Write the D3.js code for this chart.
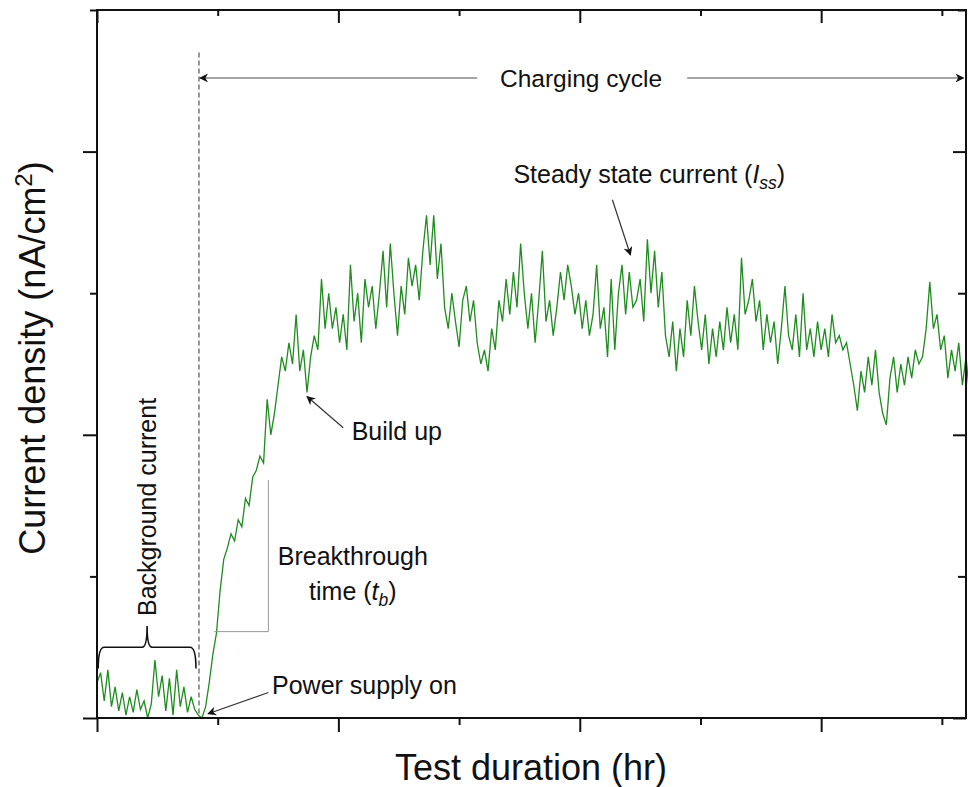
<!DOCTYPE html>
<html>
<head>
<meta charset="utf-8">
<script src="https://cdn.jsdelivr.net/npm/d3@7"></script>
<style>
  body { margin: 0; background: #fff; }
  text { font-family: "Liberation Sans", Arial, sans-serif; fill: #111; }
</style>
</head>
<body>
<script>
// sampled every STEP hours, segments follow each other in time
var STEP = 0.03;
var backgroundCurrent = [0.25,0.32,0.12,0.34,0.08,0.22,0.05,0.18,0.02,0.15,0.04,0.2,0.06,0.12,0.0,0.1,0.41,0.15,0.3,0.05,0.28,0.02,0.34,0.08,0.22,0.04,0.15,0.06,0.02];
var risingCurrent = [0.0,0.08,0.25,0.45,0.6,0.9,1.12,1.2,1.3,1.25,1.4,1.35,1.55,1.5,1.7,1.75,1.85,1.8,2.25,2.0,2.15,2.35,2.55,2.45,2.65,2.5,2.85,2.45,2.6,2.3,2.55,2.7];
var steadyCurrent = [2.6,3.1,2.75,3.0,2.75,2.9,2.65,2.85,2.6,3.2,2.8,3.0,2.65,3.1,2.9,3.05,2.75,3.0,3.3,2.9,3.35,3.0,2.7,3.05,2.85,3.25,3.05,3.2,2.95,3.3,3.55,3.2,3.55,3.1,3.35,2.9,2.75,3.0,2.8,2.62,2.95,3.05,2.8,2.95,2.65,2.5,2.6,2.45,2.75,2.6,2.95,2.8,3.1,2.85,3.15,2.9,3.35,3.0,2.75,3.0,2.65,2.95,3.3,2.8,2.95,2.7,2.9,3.15,2.95,3.2,3.05,2.85,3.0,2.75,2.95,2.7,2.85,3.2,2.75,2.9,2.55,3.1,2.6,3.0,3.2,2.85,3.15,2.9,2.95,3.1,2.8,3.38,3.0,3.3,2.9,3.15,2.7,2.55,2.8,2.45,2.75,2.55,2.95,2.7,3.05,2.8,2.6,2.85,2.5,2.75,2.55,2.8,2.6,2.9,2.65,2.85,2.6,3.25,2.85,2.95,3.1,2.8,2.95,2.6,2.85,2.65,2.8,2.5,2.75,3.05,2.7,2.6,2.85,2.55,3.0,2.6,2.75,2.55,2.8,2.6,2.75,2.55,2.85,2.65,2.7,2.6,2.65,2.5,2.35,2.17,2.45,2.3,2.55,2.35,2.6,2.3,2.15,2.07,2.4,2.55,2.3,2.5,2.35,2.55,2.4,2.6,2.5,2.55,2.75,3.08,2.75,2.85,2.6,2.7,2.4,2.6,2.45,2.65,2.35,2.55,2.28];

var xTicksMajor = [0, 2, 4, 6];
var xTicksMinor = [1, 3, 5, 7];
var yTicksMajor = [0, 2, 4];
var yTicksMinor = [1, 3, 5];

var WIDTH = 968, HEIGHT = 787;
var LEFT = 97, TOP = 10, RIGHT = 2, BOTTOM = 69;
var INNERWIDTH = WIDTH - LEFT - RIGHT;
var INNERHEIGHT = HEIGHT - TOP - BOTTOM;
var LABEL_SIZE = 25;

var translate = function (x, y) { return "translate(" + x + "," + y + ")"; };

var series = backgroundCurrent.concat(risingCurrent, steadyCurrent).map(function (v, i) {
  return {t: i * STEP, v: v};
});

var xScale = d3.scaleLinear().domain([0, 7.2]).range([0, INNERWIDTH]);
var yScale = d3.scaleLinear().domain([0, 5]).range([INNERHEIGHT, 0]);

var svg = d3.select("body").append("svg")
  .attr("width", WIDTH).attr("height", HEIGHT);

var defs = svg.append("defs");
defs.append("marker").attr("id", "head")
  .attr("viewBox", "0 0 10 10").attr("refX", 9).attr("refY", 5)
  .attr("markerWidth", 9).attr("markerHeight", 9).attr("orient", "auto-start-reverse")
  .attr("markerUnits", "userSpaceOnUse")
  .append("path").attr("d", "M0,0 L10,5 L0,10 L3,5 Z").attr("fill", "#111");

var g = svg.append("g").attr("transform", translate(LEFT, TOP));

// data line
var line = d3.line().x(function (d) { return xScale(d.t); }).y(function (d) { return yScale(d.v); });
g.append("path").datum(series)
  .attr("d", line).attr("fill", "none")
  .attr("stroke", "#1e8c1e").attr("stroke-width", 1.3);

// axes (no labels, mirrored ticks)
function drawAxis(axisFn, scale, vals, size, tr) {
  g.append("g").attr("transform", tr)
    .call(axisFn(scale).tickValues(vals).tickSize(size).tickFormat(""))
    .call(function (s) {
      s.select(".domain").remove();
      s.selectAll("line").attr("stroke", "#111").attr("stroke-width", 2);
    });
}
drawAxis(d3.axisBottom, xScale, xTicksMajor, 14, translate(0, INNERHEIGHT));
drawAxis(d3.axisBottom, xScale, xTicksMinor, 7, translate(0, INNERHEIGHT));
drawAxis(d3.axisTop, xScale, xTicksMajor, -13, translate(0, 0));
drawAxis(d3.axisTop, xScale, xTicksMinor, -6, translate(0, 0));
drawAxis(d3.axisLeft, yScale, yTicksMajor, 14, translate(0, 0));
drawAxis(d3.axisLeft, yScale, yTicksMinor, 7, translate(0, 0));
drawAxis(d3.axisRight, yScale, yTicksMajor, -13, translate(INNERWIDTH, 0));
drawAxis(d3.axisRight, yScale, yTicksMinor, -8, translate(INNERWIDTH, 0));

g.append("rect").attr("width", INNERWIDTH).attr("height", INNERHEIGHT)
  .attr("fill", "none").attr("stroke", "#111").attr("stroke-width", 2);

// axis titles
svg.append("text").attr("transform", translate(531, 780))
  .attr("text-anchor", "middle").attr("font-size", 36).text("Test duration (hr)");
var yl = svg.append("text").attr("transform", translate(45, 358) + " rotate(-90)")
  .attr("text-anchor", "middle").attr("font-size", 36);
yl.append("tspan").text("Current density (nA/cm");
yl.append("tspan").attr("dy", -13).attr("font-size", 24).text("2");
yl.append("tspan").attr("dy", 13).text(")");

// annotations
var powerOn = 0.845;
g.append("line")
  .attr("x1", xScale(powerOn)).attr("x2", xScale(powerOn))
  .attr("y1", yScale(4.7)).attr("y2", yScale(0))
  .attr("stroke", "#333").attr("stroke-width", 1).attr("stroke-dasharray", "5,3");

var cycleY = yScale(4.52);
g.append("line").attr("x1", xScale(powerOn) + 1).attr("x2", xScale(3.15))
  .attr("y1", cycleY).attr("y2", cycleY).attr("stroke", "#888").attr("stroke-width", 1.5)
  .attr("marker-start", "url(#head)");
g.append("line").attr("x1", xScale(4.89)).attr("x2", xScale(7.18))
  .attr("y1", cycleY).attr("y2", cycleY).attr("stroke", "#888").attr("stroke-width", 1.5)
  .attr("marker-end", "url(#head)");
g.append("text").attr("x", xScale(4.01)).attr("y", cycleY + 9)
  .attr("text-anchor", "middle").attr("font-size", 24.5).text("Charging cycle");

// breakthrough step
g.append("path")
  .attr("d", d3.line()([[xScale(0.97), yScale(0.61)], [xScale(1.42), yScale(0.61)], [xScale(1.42), yScale(1.68)]]))
  .attr("fill", "none").attr("stroke", "#999").attr("stroke-width", 1);

function arrow(x1, y1, x2, y2) {
  g.append("line").attr("x1", xScale(x1)).attr("y1", yScale(y1))
    .attr("x2", xScale(x2)).attr("y2", yScale(y2))
    .attr("stroke", "#333").attr("stroke-width", 1.2).attr("marker-end", "url(#head)");
}
arrow(1.42, 0.18, 0.92, 0.03);
arrow(2.04, 2.05, 1.74, 2.27);
arrow(4.27, 3.66, 4.42, 3.27);

// parts: [text, italic, baseline shift, subscript]
function label(x, y, parts) {
  var t = g.append("text").attr("x", xScale(x)).attr("y", yScale(y)).attr("font-size", LABEL_SIZE);
  parts.forEach(function (p) {
    var s = t.append("tspan").text(p[0]);
    if (p[1]) s.attr("font-style", "italic");
    if (p[2]) s.attr("dy", p[2]);
    if (p[3]) s.attr("font-size", LABEL_SIZE * 0.7);
  });
  return t;
}
label(1.45, 0.17, [["Power supply on"]]);
label(2.11, 1.96, [["Build up"]]);
label(3.45, 3.78, [["Steady state current ("], ["I", true], ["ss", true, 6, true], [")", false, -6]]);
label(2.12, 1.08, [["Breakthrough"]]).attr("text-anchor", "middle");
label(2.12, 0.83, [["time ("], ["t", true], ["b", true, 6, true], [")", false, -6]]).attr("text-anchor", "middle");

// background brace
var bx0 = xScale(0.01), bx1 = xScale(0.82), bxm = (bx0 + bx1) / 2;
var by = yScale(0.5), byTop = yScale(0.65), byBottom = yScale(0.35);
g.append("path")
  .attr("d", "M" + bx0 + "," + byBottom + " Q" + bx0 + "," + by + " " + (bx0 + 6) + "," + by +
    " L" + (bxm - 5) + "," + by + " Q" + bxm + "," + by + " " + bxm + "," + byTop +
    " Q" + bxm + "," + by + " " + (bxm + 5) + "," + by +
    " L" + (bx1 - 6) + "," + by + " Q" + bx1 + "," + by + " " + bx1 + "," + byBottom)
  .attr("fill", "none").attr("stroke", "#111").attr("stroke-width", 1.6);
g.append("text")
  .attr("transform", translate(xScale(0.49), yScale(0.72)) + " rotate(-90)")
  .attr("font-size", LABEL_SIZE).text("Background current");
</script>
</body>
</html>
